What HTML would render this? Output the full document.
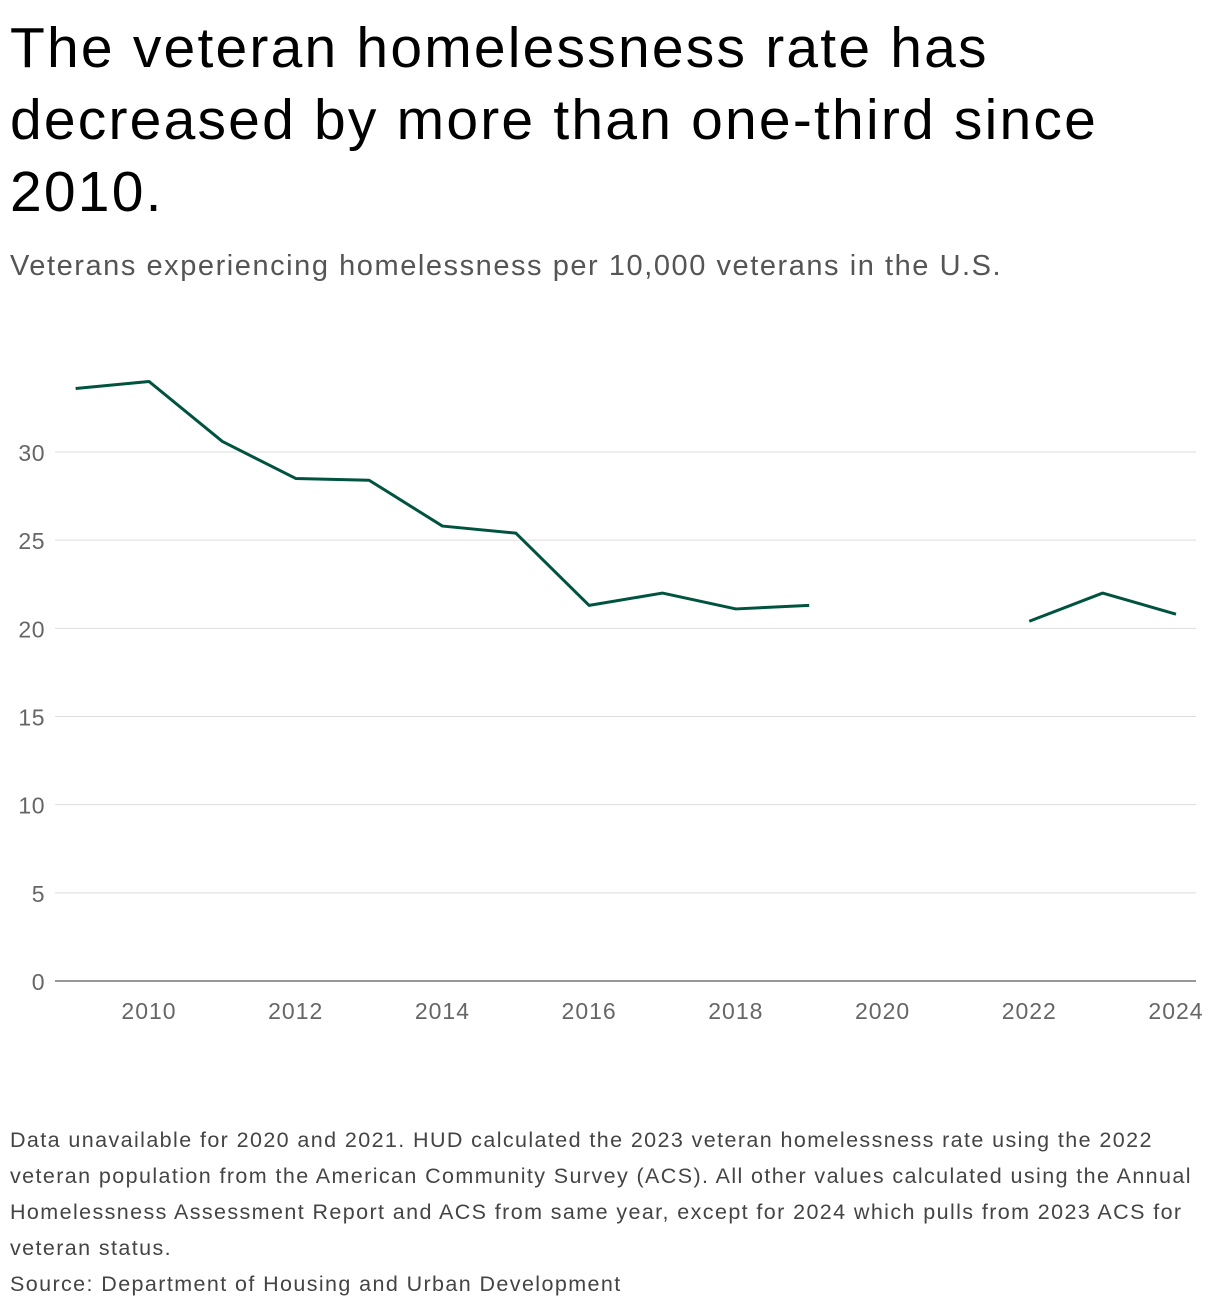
<!DOCTYPE html>
<html><head><meta charset="utf-8"><style>
body{margin:0;width:1220px;height:1312px;background:#fff;font-family:"Liberation Sans",sans-serif;color:#000;position:relative;overflow:hidden}
#title{position:absolute;left:10px;top:12px;width:1210px;font-size:57px;line-height:72px;font-weight:500;letter-spacing:2.2px;margin:0;white-space:nowrap}
#sub{position:absolute;left:10px;top:250px;font-size:29px;letter-spacing:1.55px;color:#555;margin:0;white-space:nowrap}
#note{position:absolute;left:10px;top:1122px;width:1210px;font-size:21.5px;letter-spacing:1.4px;line-height:36px;color:#444;margin:0;white-space:nowrap}
svg{position:absolute;left:0;top:0}
</style></head><body>
<h1 id="title">The veteran homelessness rate has<br>decreased by more than one-third since<br>2010.</h1>
<p id="sub">Veterans experiencing homelessness per 10,000 veterans in the U.S.</p>
<svg id="chart" width="1220" height="1312"></svg>
<p id="note">Data unavailable for 2020 and 2021. HUD calculated the 2023 veteran homelessness rate using the 2022<br>veteran population from the American Community Survey (ACS). All other values calculated using the Annual<br>Homelessness Assessment Report and ACS from same year, except for 2024 which pulls from 2023 ACS for<br>veteran status.<br>Source: Department of Housing and Urban Development</p>
<script>
const years=[2009,2010,2011,2012,2013,2014,2015,2016,2017,2018,2019,2020,2021,2022,2023,2024];
const rates=[33.6,34.0,30.6,28.5,28.4,25.8,25.4,21.3,22.0,21.1,21.3,null,null,20.4,22.0,20.8];
const yTicks=[0,5,10,15,20,25,30];
const xTicks=[2010,2012,2014,2016,2018,2020,2022,2024];
const ns="http://www.w3.org/2000/svg";
const svg=document.getElementById('chart');
const x=v=>149+(v-2010)*(1027/14);
const y=v=>981-v*(529/30);
function mk(t,a){const e=document.createElementNS(ns,t);for(const k in a)e.setAttribute(k,a[k]);svg.appendChild(e);return e;}
yTicks.forEach(t=>{
 const l=mk('line',{x1:55,x2:1196,y1:y(t),y2:y(t),stroke:t===0?'#777':'#ddd','stroke-width':t===0?1.5:1});
 
 
 const tx=mk('text',{x:45,y:y(t)+9,'text-anchor':'end','font-size':23,'letter-spacing':0.5,fill:'#666','font-family':'Liberation Sans, sans-serif'});
 tx.textContent=t;
 
 
});
xTicks.forEach(t=>{
 const tx=mk('text',{x:x(t),y:1019,'text-anchor':'middle','font-size':23,'letter-spacing':1,fill:'#666','font-family':'Liberation Sans, sans-serif'});
 tx.textContent=t;
 
 
});
let segs=[],cur=[];
years.forEach((yr,i)=>{if(rates[i]==null){if(cur.length)segs.push(cur);cur=[];}else cur.push([x(yr),y(rates[i])]);});
if(cur.length)segs.push(cur);
segs.forEach((s,i)=>{
 const p=mk('path',{d:'M'+s.map(q=>q.join(',')).join('L'),fill:'none',stroke:'#00533f','stroke-width':3,'stroke-linejoin':'round'});
 
 
});
</script>
</body></html>
